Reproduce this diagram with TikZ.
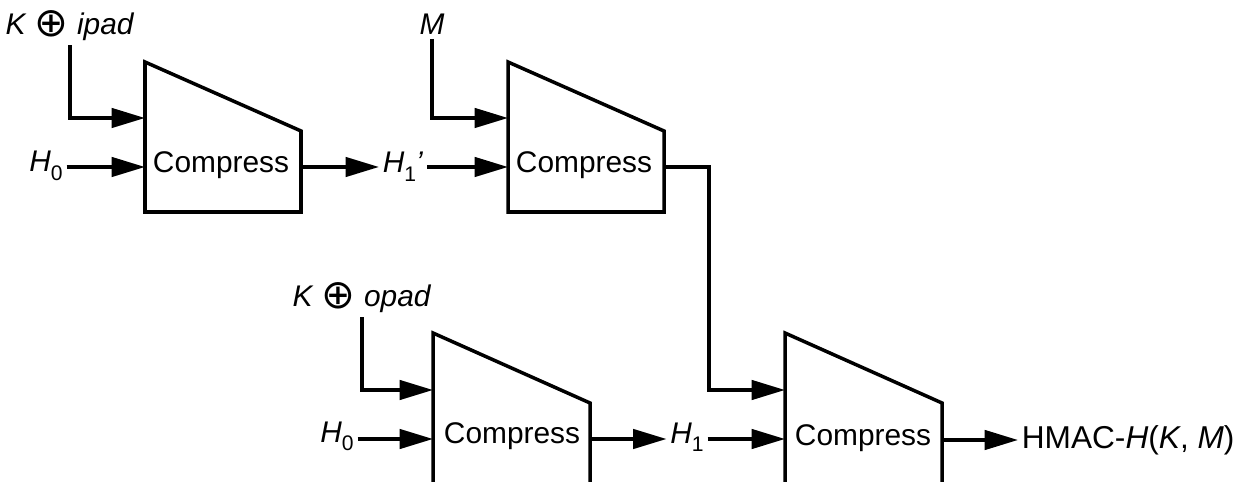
\documentclass[tikz,border=0pt]{standalone}
\usepackage{fontspec}
\setmainfont{Liberation Sans}
\newfontfamily\symfont{DejaVu Sans}
\usetikzlibrary{arrows.meta}

% H with a lowered upright index
\newcommand{\hsub}[2]{\textit{#1}\raisebox{-5pt}{\fontsize{12}{12}\selectfont #2}}
\newcommand{\xor}{\raisebox{-1pt}{\symfont\fontsize{23}{23}\selectfont ⊕}}

\begin{document}
\begin{tikzpicture}[
    x=0.02cm, y=-0.02cm,
    every node/.style={font=\fontsize{17}{20}\selectfont, inner sep=2pt},
    >={Triangle[length=19pt, width=11pt]},
    cbox/.style={line width=2pt, line join=miter},
    arr/.style={->, line width=2pt},
]
\path[use as bounding box, clip] (0,0) rectangle (1246,482);

% === Inner hash, first block ===
\draw[cbox] (145,62) -- (301,131) -- (301,212) -- (145,212) -- cycle;
\node[anchor=base] (c1) at (221,173) {Compress};
\coordinate (c1k) at (145,118);
\coordinate (c1h) at (145,167);
\coordinate (c1o) at (301,167);

\node[anchor=base] (kin1) at (70,35) {\textit{K} \xor\ \textit{ipad}};
\node[anchor=base] (h0a) at (46,172) {\hsub{H}{0}};
\draw[arr] (kin1.south) |- (c1k);
\draw[arr] (h0a.east |- c1h) -- (c1h);

% === Inner hash, message block ===
\draw[cbox] (508,62) -- (664,131) -- (664,212) -- (508,212) -- cycle;
\node[anchor=base] (c2) at (584,173) {Compress};
\coordinate (c2k) at (508,118);
\coordinate (c2h) at (508,167);
\coordinate (c2o) at (664,167);

\node[anchor=base] (h1p) at (403,173) {\hsub{H}{1}\textit{'}};
\node[anchor=base] (m) at (432,35) {\textit{M}};
\draw[arr] (c1o) -- (h1p.west |- c1o);
\draw[arr] (h1p.east |- c2h) -- (c2h);
\draw[arr] (m.south) |- (c2k);

% === Outer hash, first block ===
\draw[cbox] (433,333) -- (590,403) -- (590,495) -- (433,495) -- cycle;
\node[anchor=base] (c3) at (512,443) {Compress};
\coordinate (c3k) at (433,390);
\coordinate (c3h) at (433,439);
\coordinate (c3o) at (590,439);

\node[anchor=base] (kin2) at (362,307) {\textit{K} \xor\ \textit{opad}};
\node[anchor=base] (h0b) at (337,442) {\hsub{H}{0}};
\draw[arr] (kin2.south) |- (c3k);
\draw[arr] (h0b.east |- c3h) -- (c3h);

% === Outer hash, final block ===
\draw[cbox] (785,333) -- (942,403) -- (942,495) -- (785,495) -- cycle;
\node[anchor=base] (c4) at (863,445) {Compress};
\coordinate (c4k) at (785,390);
\coordinate (c4h) at (785,439);
\coordinate (c4o) at (942,440);

\node[anchor=base] (h1) at (687,443) {\hsub{H}{1}};
\draw[arr] (c3o) -- (h1.west |- c3o);
\draw[arr] (h1.east |- c4h) -- (c4h);

% inner result feeds the outer hash
\coordinate (bend) at (709,167);
\draw[arr] (c2o) -- (bend) |- (c4k);

% === Output ===
\node[anchor=base west, font=\fontsize{18}{20}\selectfont] (mac) at (1018,448)
    {HMAC-\textit{H}(\textit{K}, \textit{M})};
\draw[arr] (c4o) -- (mac.west |- c4o);

\end{tikzpicture}
\end{document}
